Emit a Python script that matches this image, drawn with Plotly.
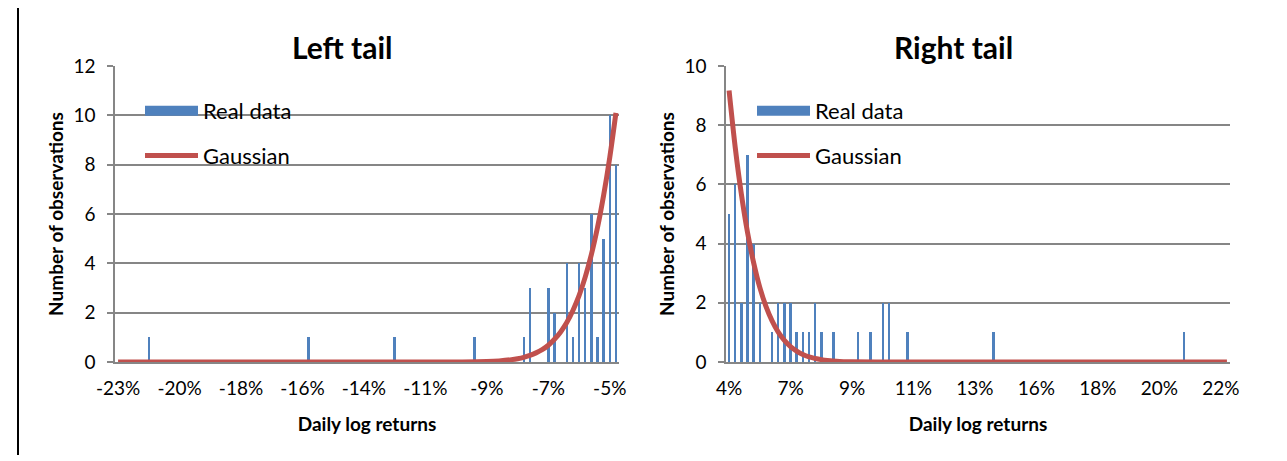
import plotly.graph_objects as go

FONT = "Lato"
BLUE = "#4F81BD"
RED = "#C0504D"
GRID = "#868686"
# the page body adds an 8 px offset, so the figure is the visible area and positions are shifted by 8 px
OFF = 8
W, H = 1287 - OFF, 461 - OFF

# ---------------- data (82 histogram bins per panel, index 0..81) ----------------
left_bins   = [5, 31, 45, 58, 66, 67, 70, 71, 73, 74, 75, 76, 77, 78, 79, 80, 81]
left_counts = [1, 1, 1, 1, 1, 3, 3, 2, 4, 1, 4, 3, 6, 1, 5, 10, 8]

left_gauss_bins = [0, 50, 56, 60, 62, 64, 65, 66, 67, 68, 69, 70, 71, 72, 73, 74, 75, 76, 77, 78, 79, 80, 81]
left_gauss_vals = [0, 0, 0.004, 0.021, 0.046, 0.095, 0.135, 0.19, 0.27, 0.37, 0.5, 0.68, 0.92, 1.22,
                   1.6, 2.09, 2.69, 3.44, 4.35, 5.45, 6.76, 8.3, 10.1]

left_tick_bins   = [0, 10, 20, 30, 40, 50, 60, 70, 80]
left_tick_labels = ["-23%", "-20%", "-18%", "-16%", "-14%", "-11%", "-9%", "-7%", "-5%"]

right_bins   = [0, 1, 2, 3, 4, 5, 7, 8, 9, 10, 11, 12, 13, 14, 15, 17, 21, 23, 25, 26, 29, 43, 74]
right_counts = [5, 6, 2, 7, 4, 2, 1, 2, 2, 2, 1, 1, 1, 2, 1, 1, 1, 1, 2, 2, 1, 1, 1]

right_gauss_bins = [0, 1, 2, 3, 4, 5, 6, 7, 8, 9, 10, 11, 12, 13, 14, 15, 16, 18, 20, 24, 81]
right_gauss_vals = [9.17, 7.25, 5.67, 4.38, 3.35, 2.52, 1.88, 1.39, 1.01, 0.73, 0.52, 0.37, 0.25,
                    0.17, 0.12, 0.08, 0.05, 0.02, 0.01, 0, 0]

right_tick_bins   = [0, 10, 20, 30, 40, 50, 60, 70, 80]
right_tick_labels = ["4%", "7%", "9%", "11%", "13%", "16%", "18%", "20%", "22%"]

# ---------------- figure ----------------
fig = go.Figure()

def add_panel(xa, ya, legend, bins, counts, gbins, gvals):
    fig.add_trace(go.Bar(x=bins, y=counts, width=0.4, marker=dict(color=BLUE, line=dict(width=0)),
                         name="Real data", showlegend=False, xaxis=xa, yaxis=ya))
    fig.add_trace(go.Scatter(x=gbins, y=gvals, mode="lines",
                             line=dict(color=RED, width=5, shape="spline", smoothing=0.8),
                             name="Gaussian", showlegend=False, xaxis=xa, yaxis=ya, cliponaxis=False))
    # legend entries
    fig.add_trace(go.Scatter(x=[None], y=[None], mode="lines", line=dict(color=BLUE, width=10),
                             name="Real data", legend=legend, legendgroup="a" + legend, xaxis=xa, yaxis=ya))
    fig.add_trace(go.Scatter(x=[None], y=[None], mode="lines", line=dict(color=RED, width=5),
                             name="Gaussian", legend=legend, legendgroup="b" + legend, xaxis=xa, yaxis=ya))

add_panel("x", "y", "legend", left_bins, left_counts, left_gauss_bins, left_gauss_vals)
add_panel("x2", "y2", "legend2", right_bins, right_counts, right_gauss_bins, right_gauss_vals)

def px(x):
    return (x - OFF) / W

def py(y):
    return (H - (y - OFF)) / H

ydom = [py(362), py(66)]
xdom1 = [px(115), px(619)]
xdom2 = [px(726), px(1230)]

tickfont = dict(family=FONT, size=19, color="#000000")
titlefont = dict(family=FONT, size=19, color="#000000", weight="bold")

def xaxis(dom, tv, tt, anchor):
    return dict(domain=dom, anchor=anchor, range=[-0.5, 81.5], showgrid=False, zeroline=False,
                showline=True, linecolor=GRID, linewidth=1.5, automargin=False,
                tickmode="array", tickvals=tv, ticktext=tt, ticks="outside", ticklen=0,
                ticklabelstandoff=8, tickfont=tickfont,
                title=dict(text="Daily log returns", font=titlefont, standoff=20), fixedrange=True)

def yaxis(dom, rng, anchor):
    return dict(domain=dom, anchor=anchor, range=rng, dtick=2, showgrid=True, gridcolor=GRID, gridwidth=1.5,
                zeroline=False, showline=True, linecolor=GRID, linewidth=1.5, automargin=False,
                ticks="outside", ticklen=6, tickcolor=GRID, tickwidth=1.5, ticklabelstandoff=8,
                tickfont=tickfont,
                title=dict(text="Number of observations", font=titlefont, standoff=5), fixedrange=True)

legend_common = dict(xanchor="left", yanchor="top", bgcolor="rgba(0,0,0,0)", borderwidth=0,
                     font=dict(family=FONT, size=22, color="#000000"), itemwidth=53,
                     tracegroupgap=13, traceorder="grouped")

fig.update_layout(
    width=W, height=H, margin=dict(l=0, r=0, t=0, b=0, autoexpand=False),
    paper_bgcolor="white", plot_bgcolor="white",
    font=dict(family=FONT, color="#000000"),
    bargap=0,
    xaxis=xaxis(xdom1, left_tick_bins, left_tick_labels, "y"),
    yaxis=yaxis(ydom, [0, 12], "x"),
    xaxis2=xaxis(xdom2, right_tick_bins, right_tick_labels, "y2"),
    yaxis2=yaxis(ydom, [0, 10], "x2"),
    legend=dict(x=px(140), y=py(90), **legend_common),
    legend2=dict(x=px(752), y=py(90), **legend_common),
    annotations=[
        dict(text="Left tail", x=px(342), y=py(47), xref="paper", yref="paper",
             showarrow=False, xanchor="center", yanchor="middle",
             font=dict(family=FONT, size=30, color="#000000", weight="bold")),
        dict(text="Right tail", x=px(953), y=py(47), xref="paper", yref="paper",
             showarrow=False, xanchor="center", yanchor="middle",
             font=dict(family=FONT, size=30, color="#000000", weight="bold")),
    ],
    shapes=[
        dict(type="line", xref="paper", yref="paper", x0=px(18), x1=px(18), y0=py(455), y1=1,
             line=dict(color="#000000", width=2)),
    ],
)

fig.write_html("out.html")
